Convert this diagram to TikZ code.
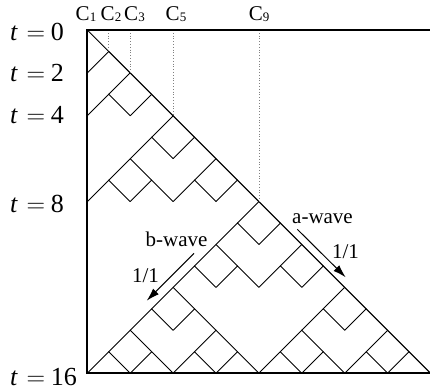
\documentclass[tikz,border=0pt]{standalone}
\usepackage[no-math]{fontspec}
\setmainfont{Liberation Serif}
\usetikzlibrary{arrows.meta}
\tikzset{
  wave/.style={line width=0.9pt, line join=miter},
  frame/.style={line width=2.3pt, line join=miter},
  guide/.style={gray, dotted, line width=0.8pt},
  tlab/.style={anchor=base west, inner sep=0pt, scale=1.24, font=\fontsize{21}{21}\selectfont},
  clab/.style={anchor=base, inner sep=0pt, font=\fontsize{21}{21}\selectfont},
  wlab/.style={anchor=base, inner sep=0pt, font=\fontsize{21}{21}\selectfont},
  arr/.style={line width=1pt, -{Latex[length=13pt,width=8pt]}},
}
\newcommand{\mycl}[1]{C{\fontsize{13}{13}\selectfont\raisebox{-0.5pt}{#1}}}
\newcommand{\mytl}[1]{\textit{t}\hspace{0.33em}$=$\hspace{0.22em}#1}
\begin{document}
\begin{tikzpicture}[x=1pt,y=-1pt]
\useasboundingbox (0,0) rectangle (430,390);
\begin{scope}[shift={(87.3,30)}, x=21.45pt, y=-21.45pt]
  \foreach \a/\t in {1/1, 2/2,1/3,3/3,
      4/4,3/5,5/5, 2/6,1/7,3/7, 6/6,5/7,7/7,
      8/8,7/9,9/9, 6/10,5/11,7/11, 10/10,9/11,11/11,
      4/12,3/13,5/13, 2/14,1/15,3/15, 6/14,5/15,7/15,
      12/12,11/13,13/13, 10/14,9/15,11/15, 14/14,13/15,15/15}
    \draw[wave] (\a-1,\t+1) -- (\a,\t) -- (\a+1,\t+1);
  \coordinate (top) at (0,0);
  \coordinate (end) at (16,16);
  \draw[wave] (top) -- (end);
  \foreach \c in {1,2,4,8} {
    \coordinate (g\c) at (\c,0);
    \coordinate (h\c) at (\c,\c);
    \draw[guide] (g\c) -- (h\c);
  }
  \coordinate (tr) at (16,0);
  \coordinate (bl) at (0,16);
  \draw[frame] (tr) -- (top) -- (bl) -- (end);
\end{scope}
% time labels
\node[tlab] (t0) at (10,41) {\mytl{0}};
\node[tlab] (t2) at (10,82) {\mytl{2}};
\node[tlab] (t4) at (10,124) {\mytl{4}};
\node[tlab] (t8) at (10,212) {\mytl{8}};
\node[tlab] (t16) at (10,385) {\mytl{16}};
% cell labels
\node[clab] (c1) at (86,21) {\mycl{1}};
\node[clab] (c2) at (111,21) {\mycl{2}};
\node[clab] (c3) at (134.5,21) {\mycl{3}};
\node[clab] (c5) at (176,21) {\mycl{5}};
\node[clab] (c9) at (259,21) {\mycl{9}};
% waves
\node[wlab] (aw) at (322.5,223) {a-wave};
\node[wlab] (ar) at (345.5,258) {1/1};
\node[wlab] (bw) at (176.5,246.5) {b-wave};
\node[wlab] (br) at (145.5,282.5) {1/1};
\coordinate (aS) at (297.3,229.3);
\coordinate (aE) at (345.7,277.3);
\coordinate (bS) at (194,253.3);
\coordinate (bE) at (146.7,300.7);
\draw[arr] (aS) -- (aE);
\draw[arr] (bS) -- (bE);
\end{tikzpicture}
\end{document}
